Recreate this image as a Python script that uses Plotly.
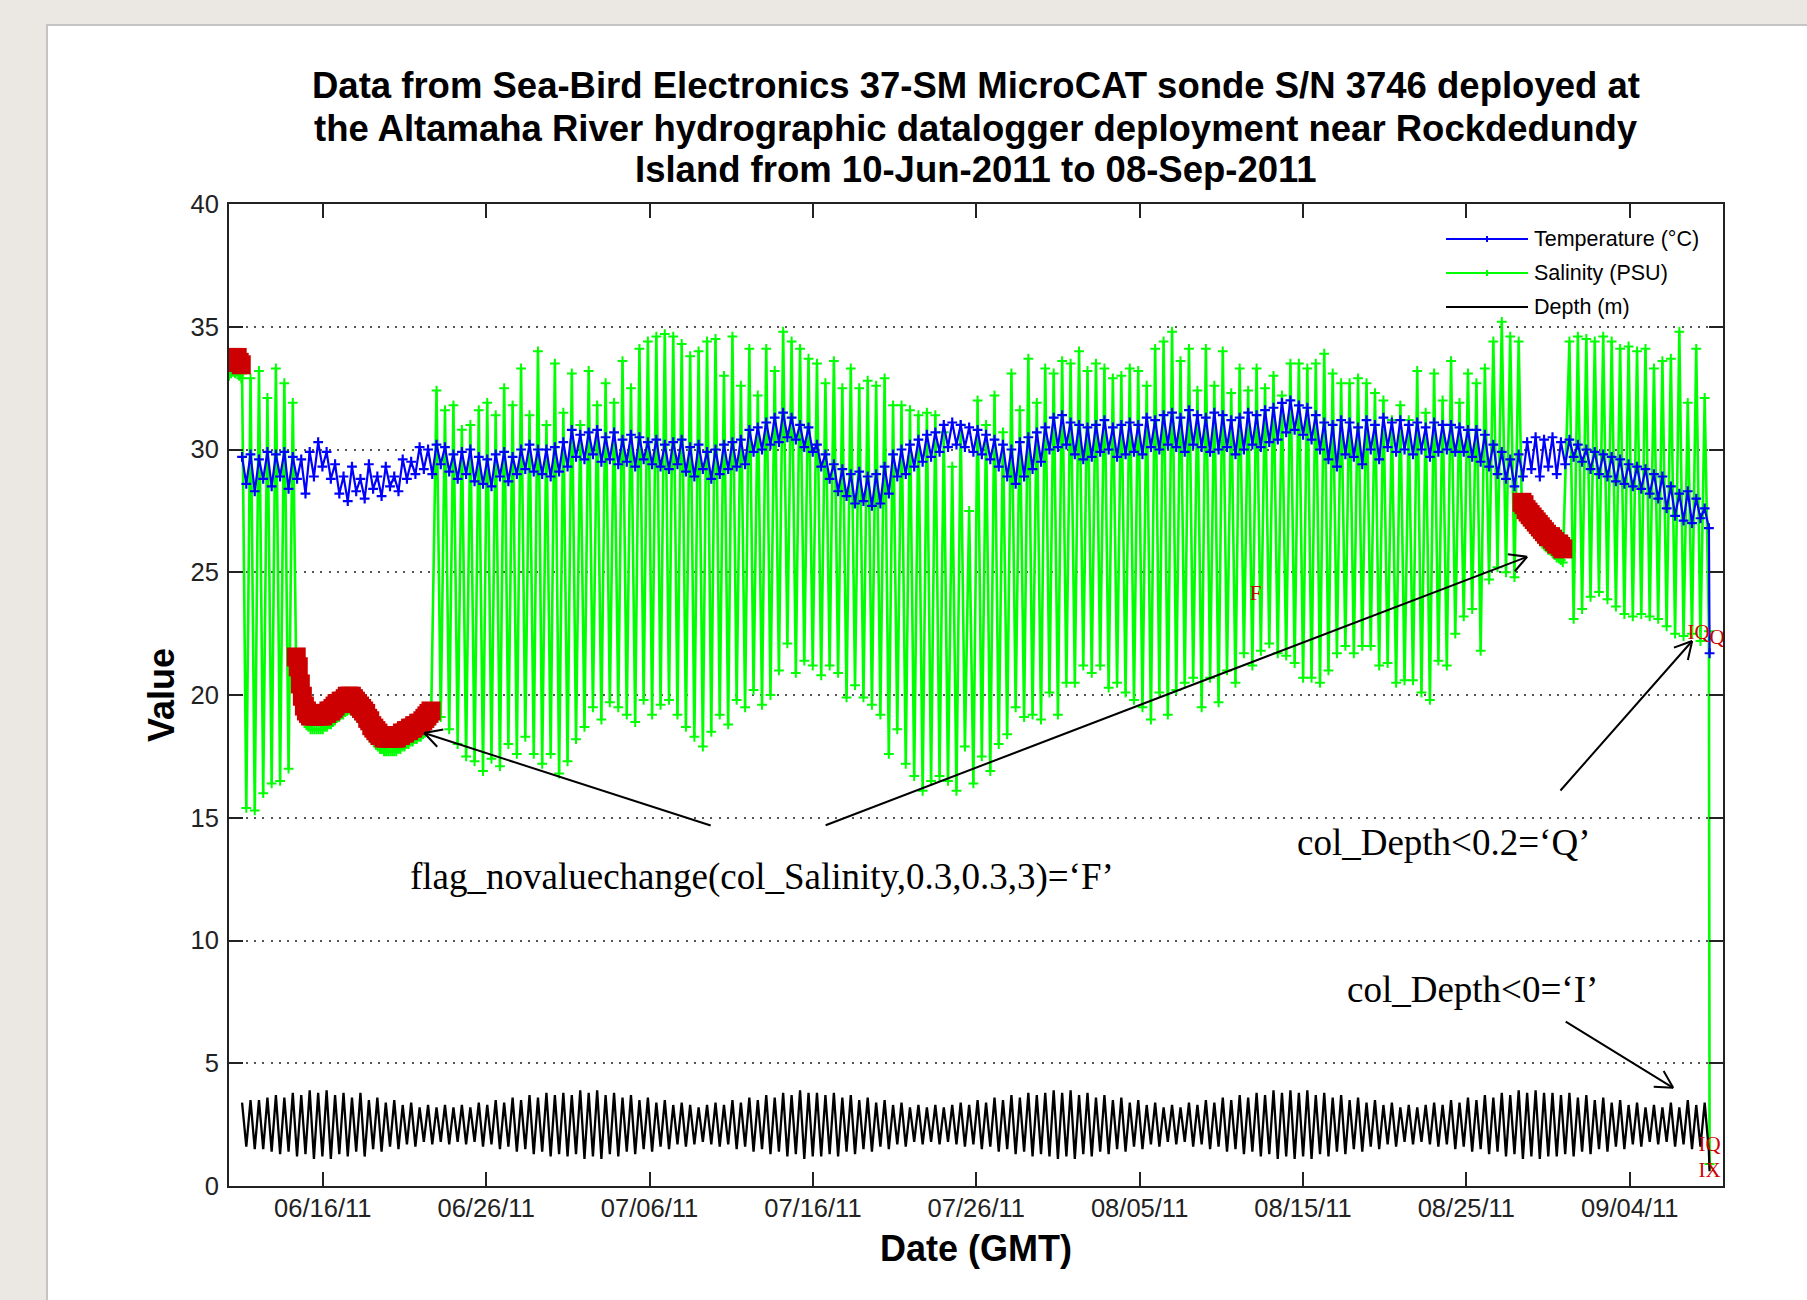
import math
import pandas as pd
import plotly.graph_objects as go

# ------------------------------------------------------------------ data
# tidal-cycle timing of the deployment (first salinity high, semidiurnal period)
cycle_start = "2011-06-11 01:26"
cycle_hours = 12.42

# salinity (PSU): high and low of each tidal cycle (None = no tidal swing, flat record)
sal_high = ([33.1, 32.9, 33.2, 32.1, 33.3, 32.7, 31.9]
            + [None] * 16
            + [32.4, 31.6, 31.8, 30.8, 31.0, 31.6, 31.9, 31.4, 32.5, 31.8, 33.3, 31.4, 34.0]
            + [31.0, 33.5, 31.5, 33.1, 31.0, 33.2, 31.8, 32.7, 31.9, 33.6, 32.5, 34.1, 34.4, 34.6, 34.7,
               34.6, 34.3, 33.8, 34.0, 34.4, 34.5, 33.0, 34.6, 32.6, 34.1, 32.2, 34.1, 33.2, 34.8, 34.4,
               34.1, 33.7, 33.5, 32.7, 33.6]
            + [32.5, 33.3, 32.5, 32.8, 32.6, 32.9, 31.8, 31.8, 31.6, 31.4, 31.5, 31.4, 30.7, 29.3, 31.0,
               27.5, 32.0, 31.0, 32.2, 30.7, 33.1, 31.6, 33.7, 31.9, 33.3, 33.1, 33.6, 33.5, 34.0, 33.2,
               33.5, 33.3, 32.9, 33.0, 33.3, 33.2]
            + [32.6, 34.1, 34.4, 34.8, 33.6, 34.1, 32.4, 34.1, 32.6, 34.0, 32.3, 33.3, 32.4, 33.3, 32.5,
               33.0, 32.2, 33.5, 33.5, 33.3, 33.5, 33.9, 33.1, 32.7, 32.7, 32.9, 32.7, 32.3, 32.0, 31.2,
               31.8, 31.2, 33.2, 31.5, 33.1]
            + [32.0, 33.6, 31.9, 33.1, 32.7, 33.3, 34.4, 35.2, 34.6, 34.4]
            + [None] * 5
            + [34.4, 34.6, 34.5, 34.4, 34.6, 34.4, 34.1, 34.2, 34.0, 34.1, 33.3, 33.6, 33.7, 34.8, 31.9,
               34.1, 32.1])
sal_low = ([15.4, 15.3, 16.0, 16.4, 16.5, 17.0, None]
           + [None] * 16
           + [19.1, 18.6, 18.0, 17.5, 17.3, 16.9, 17.4, 17.1, 18.0, 17.6, 18.3, 17.6, 17.2]
           + [17.6, 16.8, 17.3, 18.2, 18.7, 19.5, 19.0, 19.7, 19.5, 19.2, 18.9, 19.8, 19.2, 19.6, 19.8,
              19.2, 18.7, 18.3, 17.9, 18.5, 19.2, 18.8, 19.8, 19.5, 20.2, 19.6, 20.0, 21.0, 22.1, 20.9,
              21.4, 21.2, 20.8, 21.2, 20.9]
           + [19.9, 20.4, 19.9, 19.6, 19.2, 17.6, 18.6, 17.2, 16.7, 16.1, 16.5, 16.7, 16.5, 16.1, 17.9,
              16.4, 17.5, 16.9, 18.0, 18.4, 19.5, 19.1, 19.2, 19.0, 20.1, 19.2, 20.5, 20.5, 21.2, 20.9,
              21.2, 20.3, 20.5, 20.1, 19.8, 19.5]
           + [19.0, 20.1, 19.2, 20.2, 20.5, 20.7, 19.5, 20.7, 19.7, 21.0, 20.5, 21.7, 21.2, 21.8, 22.1,
              21.7, 21.6, 21.3, 20.7, 20.7, 20.5, 21.0, 21.7, 22.0, 21.7, 22.0, 22.0, 21.2, 21.3, 20.5,
              20.6, 20.6, 20.1, 19.8, 21.4]
           + [21.2, 22.5, 23.2, 23.5, 21.8, 24.7, 25.2, 25.0, 24.8, None]
           + [None] * 5
           + [23.1, 23.5, 24.0, 24.2, 23.9, 23.6, 23.3, 23.2, 23.3, 23.2, 23.1, 22.8, 22.5, 22.4, 22.5,
              22.2, 22.6])

# flat (flagged 'F') salinity stretches: start time, step in hours, values
flat_start_time, flat_start_step = "2011-06-10 06:15", 3
flat_start_vals = [33.0, 33.1, 33.2, 33.1, 33.2, 33.0, 32.9]
flat_jun_time, flat_jun_step = "2011-06-14 09:00", 3
flat_jun_vals = [21.0, 20.6, 19.9, 19.4, 19.0, 18.8, 18.7, 18.6, 18.6, 18.6,
                 18.6, 18.6, 18.6, 18.6, 18.7, 18.7, 18.8, 18.8, 18.9, 19.0,
                 19.1, 19.1, 19.2, 19.2, 19.3, 19.4, 19.4, 19.4, 19.3, 19.2,
                 19.1, 19.0, 18.9, 18.8, 18.7, 18.5, 18.4, 18.2, 18.1, 18.0,
                 17.9, 17.8, 17.8, 17.7, 17.7, 17.7, 17.7, 17.7, 17.7, 17.7,
                 17.8, 17.8, 17.9, 17.9, 18.0, 18.0, 18.1, 18.1, 18.2, 18.2,
                 18.3, 18.3, 18.4, 18.5, 18.6, 18.7, 18.8]
flat_aug_time, flat_aug_step = "2011-08-28 09:40", 3
flat_aug_vals = [27.3, 27.2, 27.0, 26.9, 26.8, 26.7, 26.6, 26.5, 26.4, 26.3, 26.2,
                 26.1, 26.0, 25.9, 25.9, 25.8, 25.7, 25.6, 25.6, 25.5, 25.4]

# temperature (deg C): high and low of each tidal cycle
temp_high = [29.7, 29.8, 29.6, 29.9, 29.8, 29.9, 29.7, 29.6, 29.9, 30.3, 29.9,
             29.4, 28.9, 29.3, 28.8, 29.4, 28.9, 29.3, 28.9, 29.6, 29.5, 30.1, 30.0, 30.2,
             30.1, 29.8, 29.9, 30.0, 29.7, 29.6, 29.8, 29.9, 29.7, 30.0, 30.2, 30.0,
             30.0, 30.1, 30.3, 30.8, 30.6, 30.7, 30.8, 30.5, 30.7, 30.4, 30.6, 30.5, 30.3,
             30.4, 30.2, 30.3, 30.4, 30.1, 30.2, 29.9, 30.0, 30.2, 30.3, 30.4,
             30.8, 30.9, 31.1, 31.3, 31.5, 31.3, 31.0, 30.9, 30.2, 29.8, 29.4,
             29.2, 29.0, 29.1, 28.9, 29.0, 29.3, 29.8, 30.0, 30.2, 30.4, 30.6, 30.7,
             31.0, 31.1, 31.0, 30.9, 30.8, 30.6, 30.4, 30.2, 30.0, 30.3, 30.5, 30.7,
             30.9, 31.3, 31.4, 31.1, 31.0, 30.9, 31.0, 31.2, 30.9, 31.0, 31.1, 31.0,
             31.3, 31.2, 31.4, 31.5, 31.3, 31.6, 31.4, 31.3, 31.5, 31.4, 31.2, 31.3, 31.5, 31.4, 31.6, 31.7,
             31.9, 32.0, 31.8, 31.7,
             31.4, 31.1, 31.0, 31.2, 31.1, 30.9, 31.2, 31.0, 31.3, 31.1, 31.2, 31.0, 31.1, 30.9, 31.1,
             31.0, 31.0, 30.9, 30.8, 30.8, 30.6, 30.2, 29.9, 29.6, 29.8,
             30.3, 30.5, 30.4, 30.5, 30.3,
             30.4, 30.2, 30.0, 29.9, 29.8, 29.7, 29.6, 29.4, 29.3, 29.2, 29.0, 28.9, 28.5, 28.2,
             28.3, 28.0, 27.6]
temp_low = [28.6, 28.3, 28.8, 28.5, 28.9, 28.4, 28.8, 28.2, 28.9, 29.3, 28.8,
            28.2, 27.9, 28.3, 28.0, 28.4, 28.1, 28.5, 28.3, 28.8, 29.0, 29.2, 29.0, 29.4,
            29.1, 28.8, 29.0, 28.7, 28.6, 28.5, 28.9, 28.7, 29.0, 29.2, 29.1, 29.0,
            28.9, 29.1, 29.3, 29.7, 29.6, 29.8, 29.5, 29.6, 29.4, 29.5, 29.3, 29.6, 29.4,
            29.3, 29.2, 29.4, 29.1, 28.9, 29.2, 28.8, 29.0, 29.2, 29.3, 29.4,
            29.9, 30.0, 30.2, 30.3, 30.5, 30.4, 30.1, 29.9, 29.3, 28.8, 28.3,
            28.1, 27.8, 27.9, 27.7, 27.8, 28.2, 28.9, 29.0, 29.3, 29.5, 29.7, 29.9,
            30.1, 30.2, 30.1, 29.9, 29.8, 29.6, 29.3, 28.9, 28.6, 28.9, 29.2, 29.5,
            30.0, 30.1, 30.2, 29.8, 29.6, 29.7, 29.9, 30.0, 29.7, 29.8, 29.9, 29.8,
            30.1, 30.0, 30.2, 30.1, 29.9, 30.2, 30.1, 29.9, 30.0, 30.1, 29.8, 30.0, 30.2, 30.1, 30.3, 30.4,
            30.7, 30.8, 30.6, 30.4,
            30.0, 29.6, 29.3, 29.8, 29.7, 29.4, 30.0, 29.6, 30.1, 29.9, 30.0, 29.8, 30.0, 29.7, 29.9,
            30.0, 29.9, 29.9, 29.7, 29.5, 29.3, 29.0, 28.8, 28.5, 28.9,
            29.2, 28.9, 29.3, 29.0, 29.4,
            29.7, 29.5, 29.2, 29.0, 28.9, 28.7, 28.6, 28.5, 28.4, 28.2, 28.0, 27.6, 27.3, 27.1,
            27.0, 27.2, 26.8]

# depth (m): high and low water of each tidal cycle
depth_high = [3.4, 3.5, 3.5, 3.6, 3.7, 3.6, 3.8, 3.7, 3.9, 3.8,
              3.9, 3.7, 3.8, 3.6, 3.8, 3.5, 3.6, 3.4, 3.5, 3.3, 3.4, 3.2, 3.3, 3.2, 3.3, 3.2,
              3.3, 3.2, 3.4, 3.3, 3.5, 3.4, 3.6, 3.5, 3.7, 3.6, 3.8, 3.7, 3.8, 3.7, 3.9,
              3.8, 3.9, 3.7, 3.8, 3.6, 3.7, 3.5, 3.6, 3.4, 3.5, 3.3, 3.4, 3.3, 3.2,
              3.3, 3.4, 3.3, 3.5, 3.4, 3.6, 3.5, 3.7, 3.6, 3.8, 3.7, 3.9, 3.8,
              3.8, 3.7, 3.8, 3.6, 3.7, 3.5, 3.6, 3.4, 3.5, 3.3, 3.4, 3.2, 3.3, 3.2, 3.3, 3.2,
              3.3, 3.4, 3.3, 3.5, 3.4, 3.6, 3.5, 3.7, 3.6, 3.8, 3.7, 3.8, 3.9,
              3.8, 3.9, 3.7, 3.8, 3.6, 3.7, 3.5, 3.6, 3.4, 3.5, 3.3, 3.4, 3.2, 3.3,
              3.2, 3.4, 3.3, 3.5, 3.4, 3.6, 3.5, 3.7, 3.6, 3.8, 3.7, 3.9, 3.8, 3.9, 3.8,
              3.9, 3.7, 3.8, 3.6, 3.7, 3.5, 3.6, 3.4, 3.5, 3.3, 3.4, 3.2, 3.3, 3.2,
              3.3, 3.4, 3.3, 3.5, 3.4, 3.6, 3.5, 3.7, 3.6, 3.8, 3.7, 3.9, 3.8, 3.9, 3.8,
              3.8, 3.7, 3.8, 3.6, 3.7, 3.5, 3.6, 3.4, 3.5, 3.3, 3.4, 3.2, 3.3, 3.2,
              3.4, 3.2, 3.5, 3.3, 3.4]
depth_low = [1.6, 1.5, 1.5, 1.4, 1.3, 1.4, 1.2, 1.3, 1.1, 1.2,
             1.1, 1.3, 1.2, 1.4, 1.2, 1.5, 1.4, 1.6, 1.5, 1.7, 1.6, 1.8, 1.7, 1.8, 1.7, 1.8,
             1.7, 1.8, 1.6, 1.7, 1.5, 1.6, 1.4, 1.5, 1.3, 1.4, 1.2, 1.3, 1.2, 1.3, 1.1,
             1.2, 1.1, 1.3, 1.2, 1.4, 1.3, 1.5, 1.4, 1.6, 1.5, 1.7, 1.6, 1.7, 1.8,
             1.7, 1.6, 1.7, 1.5, 1.6, 1.4, 1.5, 1.3, 1.4, 1.2, 1.3, 1.1, 1.2,
             1.2, 1.3, 1.2, 1.4, 1.3, 1.5, 1.4, 1.6, 1.5, 1.7, 1.6, 1.8, 1.7, 1.8, 1.7, 1.8,
             1.7, 1.6, 1.7, 1.5, 1.6, 1.4, 1.5, 1.3, 1.4, 1.2, 1.3, 1.2, 1.1,
             1.2, 1.1, 1.3, 1.2, 1.4, 1.3, 1.5, 1.4, 1.6, 1.5, 1.7, 1.6, 1.8, 1.7,
             1.8, 1.6, 1.7, 1.5, 1.6, 1.4, 1.5, 1.3, 1.4, 1.2, 1.3, 1.1, 1.2, 1.1, 1.2,
             1.1, 1.3, 1.2, 1.4, 1.3, 1.5, 1.4, 1.6, 1.5, 1.7, 1.6, 1.8, 1.7, 1.8,
             1.7, 1.6, 1.7, 1.5, 1.6, 1.4, 1.5, 1.3, 1.4, 1.2, 1.3, 1.1, 1.2, 1.1, 1.2,
             1.2, 1.3, 1.2, 1.4, 1.3, 1.5, 1.4, 1.6, 1.5, 1.7, 1.6, 1.8, 1.7, 1.8,
             1.6, 1.7, 1.5, 1.6, 1.4]

# last sample (sonde out of the water)
end_salinity, end_temperature, end_depth = 0.9, 21.7, 0.6

# isolated flag
flag_F_time, flag_F_value = "2011-08-12 02:24", 24.1

x_tick_labels = ["06/16/11", "06/26/11", "07/06/11", "07/16/11", "07/26/11",
                 "08/05/11", "08/15/11", "08/25/11", "09/04/11"]
y_ticks = [0, 5, 10, 15, 20, 25, 30, 35, 40]
x_range = ["2011-06-10 06:14", "2011-09-09 17:00"]

title_lines = ["Data from Sea-Bird Electronics 37-SM MicroCAT sonde S/N 3746 deployed at",
               "the Altamaha River hydrographic datalogger deployment near Rockdedundy",
               "Island from 10-Jun-2011 to 08-Sep-2011"]

for name, arr in [("sal_low", sal_low), ("temp_high", temp_high), ("temp_low", temp_low),
                  ("depth_high", depth_high), ("depth_low", depth_low)]:
    if len(arr) != len(sal_high):
        raise ValueError(f"{name} has {len(arr)} values, expected {len(sal_high)}")

# ------------------------------------------------------------------ build series
T0 = pd.Timestamp(cycle_start)
PERIOD = pd.Timedelta(hours=cycle_hours)
HALF = PERIOD / 2


def flat_points(start, step_h, vals):
    t = pd.Timestamp(start)
    return [(t + pd.Timedelta(hours=step_h * i), v) for i, v in enumerate(vals)]


def tidal(highs, lows, extra=()):
    pts = list(extra)
    for k, (h, l) in enumerate(zip(highs, lows)):
        th = T0 + k * PERIOD
        if h is not None:
            pts.append((th, h))
        if l is not None:
            pts.append((th + HALF, l))
    pts.sort(key=lambda p: p[0])
    return pts


t_last = T0 + (len(sal_high) - 1) * PERIOD + HALF
t_end = t_last + pd.Timedelta(hours=1)

flats = (flat_points(flat_start_time, flat_start_step, flat_start_vals)
         + flat_points(flat_jun_time, flat_jun_step, flat_jun_vals)
         + flat_points(flat_aug_time, flat_aug_step, flat_aug_vals))

sal_pts = tidal(sal_high, sal_low, flats) + [(t_end, end_salinity)]
temp_pts = tidal(temp_high, temp_low) + [(t_end, end_temperature)]
depth_pts = tidal(depth_high, depth_low) + [(t_end, end_depth)]

GREEN, BLUE, RED = "#00ff00", "#0000ff", "#cc0000"

fig = go.Figure()
fig.add_trace(go.Scatter(
    x=[p[0] for p in sal_pts], y=[p[1] for p in sal_pts], name="Salinity (PSU)",
    mode="lines+markers", line=dict(color=GREEN, width=2.6),
    marker=dict(symbol="cross-thin", size=7, color=GREEN, line=dict(color=GREEN, width=2))))
fig.add_trace(go.Scatter(
    x=[p[0] for p in temp_pts], y=[p[1] for p in temp_pts], name="Temperature (°C)",
    mode="lines+markers", line=dict(color=BLUE, width=2.2),
    marker=dict(symbol="cross-thin", size=7, color=BLUE, line=dict(color=BLUE, width=2.2))))
fig.add_trace(go.Scatter(
    x=[p[0] for p in depth_pts], y=[p[1] for p in depth_pts], name="Depth (m)",
    mode="lines", line=dict(color="black", width=2.3)))

# flagged salinity ('F')
fig.add_trace(go.Scatter(
    x=[p[0] for p in flats], y=[p[1] + 0.55 for p in flats], mode="markers",
    marker=dict(symbol="square", size=19, color=RED), hoverinfo="skip"))

# flag letters
serif = "Liberation Serif, Times New Roman, serif"
fig.add_trace(go.Scatter(
    x=[pd.Timestamp(flag_F_time), t_end, t_end, t_end, t_end],
    y=[flag_F_value, 22.5, 22.3, 1.65, 0.6],
    text=["F", "IQ", "Q", "IQ", "IX"],
    textposition=["middle center", "middle left", "middle right", "middle center", "middle center"],
    mode="text", textfont=dict(family=serif, size=21, color=RED), cliponaxis=False,
    hoverinfo="skip"))

# ------------------------------------------------------------------ layout
L, R, T, B = 229, 84, 204, 114
W, H = 1807, 1300
PW, PH = W - L - R, H - T - B


def px_x(x):
    return (x - L) / PW


def px_y(y):
    return (H - B - y) / PH


sans = "Liberation Sans, Arial, Helvetica, sans-serif"
tick_vals = [pd.to_datetime(s, format="%m/%d/%y") for s in x_tick_labels]

fig.update_layout(
    width=W, height=H,
    margin=dict(l=L, r=R, t=T, b=B, autoexpand=False),
    paper_bgcolor="#ebe8e4", plot_bgcolor="white",
    showlegend=False,
    font=dict(family=sans, color="black"),
    xaxis=dict(type="date", range=x_range, tickvals=tick_vals, ticktext=x_tick_labels,
               ticks="inside", ticklen=14, tickwidth=1.5, tickcolor="#222",
               showline=True, linecolor="#222", linewidth=2, mirror="ticks",
               showgrid=False, zeroline=False, ticklabelstandoff=-2,
               tickfont=dict(family=sans, size=25.5, color="#222")),
    yaxis=dict(range=[0, 40], tickvals=y_ticks, ticks="inside", ticklen=14, tickwidth=1.5,
               tickcolor="#222", showline=True, linecolor="#222", linewidth=2, mirror="ticks",
               showgrid=True, gridcolor="#555", gridwidth=2, griddash="2px,6.3px",
               zeroline=False, ticklabelstandoff=3,
               tickfont=dict(family=sans, size=25.5, color="#222")),
)

shapes = [
    dict(type="rect", xref="paper", yref="paper", layer="below",
         x0=px_x(47), x1=px_x(W + 5), y0=px_y(25), y1=px_y(H + 5),
         fillcolor="white", line=dict(color="#c4c4c4", width=2)),
]

annotations = []
# title (three centred bold lines)
for line, ypx in zip(title_lines, [86, 128, 169]):
    annotations.append(dict(xref="paper", yref="paper", x=0.5, y=px_y(ypx), text=f"<b>{line}</b>",
                            showarrow=False, xanchor="center", yanchor="middle",
                            font=dict(family=sans, size=36.5, color="black")))

# legend (manual, MATLAB-style long sample lines)
legend_items = [("Temperature (°C)", BLUE, True, 239),
                ("Salinity (PSU)", GREEN, True, 273),
                ("Depth (m)", "black", False, 307)]
for label, col, has_marker, ypx in legend_items:
    shapes.append(dict(type="line", xref="paper", yref="paper", x0=px_x(1446), x1=px_x(1528),
                       y0=px_y(ypx), y1=px_y(ypx), line=dict(color=col, width=1.8)))
    if has_marker:
        shapes.append(dict(type="line", xref="paper", yref="paper", x0=px_x(1487), x1=px_x(1487),
                           y0=px_y(ypx - 3), y1=px_y(ypx + 3), line=dict(color=col, width=2)))
    annotations.append(dict(xref="paper", yref="paper", x=px_x(1532), y=px_y(ypx),
                            xanchor="left", yanchor="middle", showarrow=False, text=label,
                            font=dict(family=sans, size=21.5, color="black")))

# axis titles
annotations.append(dict(xref="paper", yref="paper", x=px_x(161), y=0.5, text="<b>Value</b>",
                        textangle=-90, showarrow=False, xanchor="center", yanchor="middle",
                        font=dict(family=sans, size=36, color="black")))
annotations.append(dict(xref="paper", yref="paper", x=0.5, y=px_y(1248), text="<b>Date (GMT)</b>",
                        showarrow=False, xanchor="center", yanchor="middle",
                        font=dict(family=sans, size=36, color="black")))

# explanatory texts
notes = [("flag_novaluechange(col_Salinity,0.3,0.3,3)=‘F’", "2011-07-12 21:36", 12.6),
         ("col_Depth<0.2=‘Q’", "2011-08-23 14:00", 14.0),
         ("col_Depth<0=‘I’", "2011-08-25 09:00", 8.0)]
for txt, xt, yv in notes:
    annotations.append(dict(x=pd.Timestamp(xt), y=yv, text=txt, showarrow=False,
                            xanchor="center", yanchor="middle",
                            font=dict(family=serif, size=37, color="black")))

# arrows: head (time, value) and tail offset in pixels
arrows = [("2011-06-22 05:00", 18.45, 288, 93),
          ("2011-08-28 17:17", 25.63, -703, 269),
          ("2011-09-07 19:41", 22.2, -133, 151),
          ("2011-09-06 15:50", 4.0, -109, -67)]
for xt, yv, dx, dy in arrows:
    base = dict(x=pd.Timestamp(xt), y=yv, text="", showarrow=True, arrowhead=0,
                arrowwidth=2, arrowcolor="black", standoff=0, startstandoff=0,
                font=dict(size=1))
    annotations.append(dict(base, ax=dx, ay=dy))
    ln = math.hypot(dx, dy)
    ux, uy = dx / ln, dy / ln
    for s in (1, -1):
        a = s * 0.5
        wx = 21 * (ux * math.cos(a) - uy * math.sin(a))
        wy = 21 * (ux * math.sin(a) + uy * math.cos(a))
        annotations.append(dict(base, ax=wx, ay=wy))

fig.update_layout(shapes=shapes, annotations=annotations)

fig.write_html("out.html", config={"displayModeBar": False},
               post_script="document.body.style.margin='0';"
                           "document.body.style.background='#ebe8e4';")
